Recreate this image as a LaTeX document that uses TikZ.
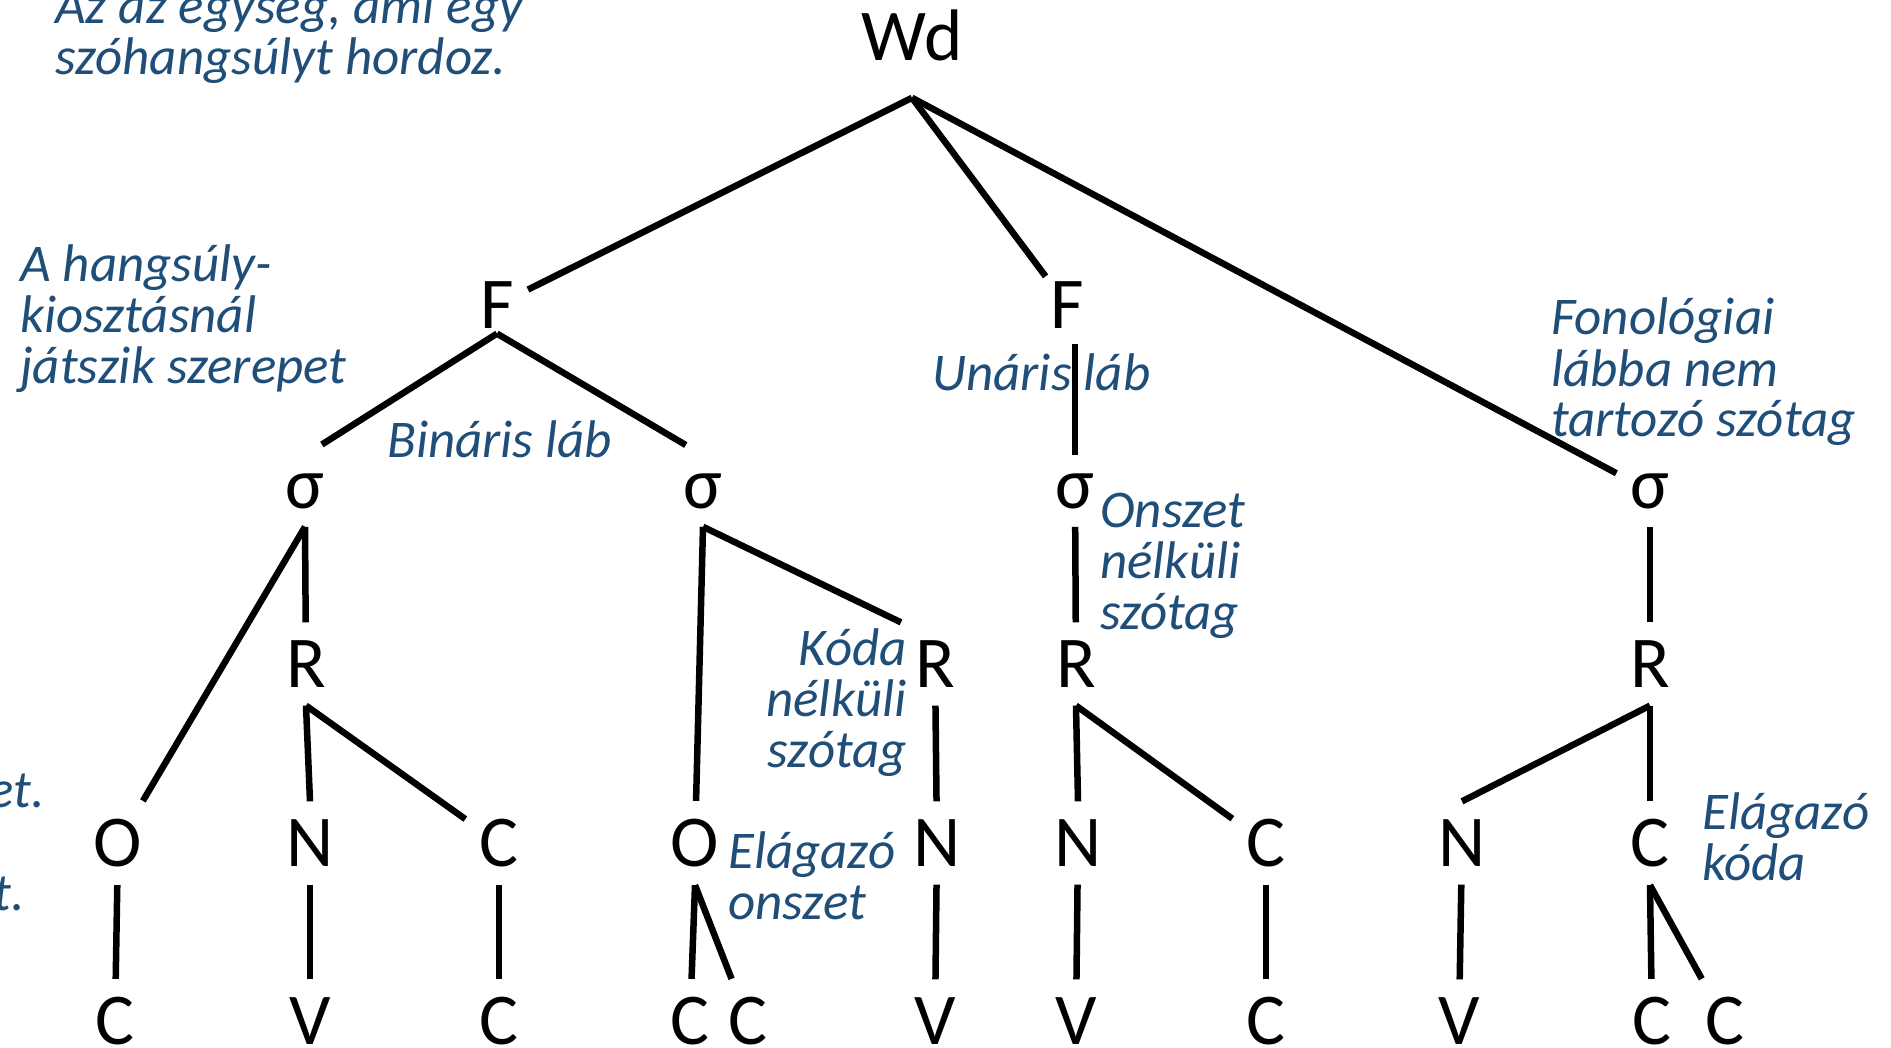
\documentclass[tikz,border=0pt]{standalone}
\usepackage{fontspec}
\setmainfont{Carlito}
\definecolor{kek}{RGB}{31,78,121}
\tikzset{
    seg/.style={inner xsep=14pt,inner ysep=18pt,font=\fontsize{73}{80}\selectfont},
    note/.style={inner sep=0pt,text=kek,align=left,font=\itshape\fontsize{53}{51}\selectfont},
    ag/.style={line width=6.5pt}
}
\begin{document}
\begin{tikzpicture}[x=1pt,y=-1pt]
            \clip (0,0) rectangle (1891,1048);
            % the tree
            \node(wd)[seg,inner ysep=37pt] at (912,35){Wd};
            \node(f1)[seg,inner ysep=5pt] at (497,305){F};
            \node(f2)[seg,inner ysep=5pt] at (1067,305){F};
            \node(s1)[seg] at (305,491){σ};
            \node(s2)[seg] at (703,491){σ};
            \node(s3)[seg] at (1075,491){σ};
            \node(s4)[seg] at (1650,491){σ};
            \node(r1)[seg] at (306,664){R};
            \node(r2)[seg] at (935,664){R};
            \node(r3)[seg] at (1076,664){R};
            \node(r4)[seg] at (1650,664){R};
            \node(o1)[seg] at (118,843){O};
            \node(n1)[seg] at (310,843){N};
            \node(c1)[seg] at (499,843){C};
            \node(o2)[seg] at (695,843){O};
            \node(n2)[seg] at (937,843){N};
            \node(n3)[seg] at (1078,843){N};
            \node(c3)[seg] at (1266,843){C};
            \node(n4)[seg] at (1462,843){N};
            \node(c4)[seg] at (1650,843){C};
            \node(o1c)[seg] at (115,1021){C};
            \node(n1v)[seg] at (310,1021){V};
            \node(c1c)[seg] at (499,1021){C};
            \node(o2c1)[seg] at (690,1021){C};
            \node(o2c2)[seg] at (748,1021){C};
            \node(n2v)[seg] at (935,1021){V};
            \node(n3v)[seg] at (1076,1021){V};
            \node(c3c)[seg] at (1266,1021){C};
            \node(n4v)[seg] at (1459,1021){V};
            \node(c4c1)[seg] at (1652,1021){C};
            \node(c4c2)[seg] at (1725,1021){C};
            \draw[ag] (wd.south) -- (f1);
            \draw[ag] (wd.south) -- (f2);
            \draw[ag] (wd.south) -- (s4);
            \draw[ag,shorten >=20pt] (f1.south) -- (s1.north);
            \draw[ag,shorten >=20pt] (f1.south) -- (s2.north);
            \draw[ag,shorten <=10pt] (f2.south -| s3) -- (s3);
            \draw[ag] (s1.south) -- (r1);
            \draw[ag] (s1.south) -- (o1);
            \draw[ag] (s2.south) -- (o2);
            \draw[ag] (s2.south) -- (r2.north west);
            \draw[ag] (s3) -- (r3);
            \draw[ag] (s4) -- (r4);
            \draw[ag] (r1.south) -- (n1.north);
            \draw[ag] (r1.south) -- (c1);
            \draw[ag] (r2) -- (n2);
            \draw[ag] (r3.south) -- (n3.north);
            \draw[ag] (r3.south) -- (c3);
            \draw[ag] (r4.south) -- (n4.north);
            \draw[ag] (r4.south) -- (c4.north);
            \draw[ag] (o1) -- (o1c);
            \draw[ag] (n1) -- (n1v);
            \draw[ag] (c1) -- (c1c);
            \draw[ag] (o2.south) -- (o2c1);
            \draw[ag] (o2.south) -- (o2c2);
            \draw[ag] (n2) -- (n2v);
            \draw[ag] (n3) -- (n3v);
            \draw[ag] (c3) -- (c3c);
            \draw[ag] (n4) -- (n4v);
            \draw[ag] (c4.south) -- (c4c1);
            \draw[ag] (c4.south) -- (c4c2);
            % the notes
            \node(egyseg)[note,anchor=base west] at (55,75){Az az egység, ami egy\\szóhangsúlyt hordoz.};
            \node(kiosztas)[note,anchor=base west] at (20,384){A hangsúly-\\kiosztásnál\\játszik szerepet};
            \node(binaris)[note,anchor=base west] at (387,458){Bináris láb};
            \node(unaris)[note,anchor=base west] at (932,391){Unáris láb};
            \node(fonlab)[note,anchor=base west] at (1551,437){Fonológiai\\lábba nem\\tartozó szótag};
            \node(onszetnk)[note,anchor=base west] at (1100,629){Onszet\\nélküli\\szótag};
            \node(kodank)[note,align=right,anchor=base east] at (907,767){Kóda\\nélküli\\szótag};
            \node(elonszet)[note,anchor=base west] at (728,919){Elágazó\\onszet};
            \node(elkoda)[note,anchor=base west] at (1702,880){Elágazó\\kóda};
            \node(et)[note,anchor=base east] at (45,807){et.};
            \node(t)[note,anchor=base east] at (25,910){t.};
\end{tikzpicture}
\end{document}
